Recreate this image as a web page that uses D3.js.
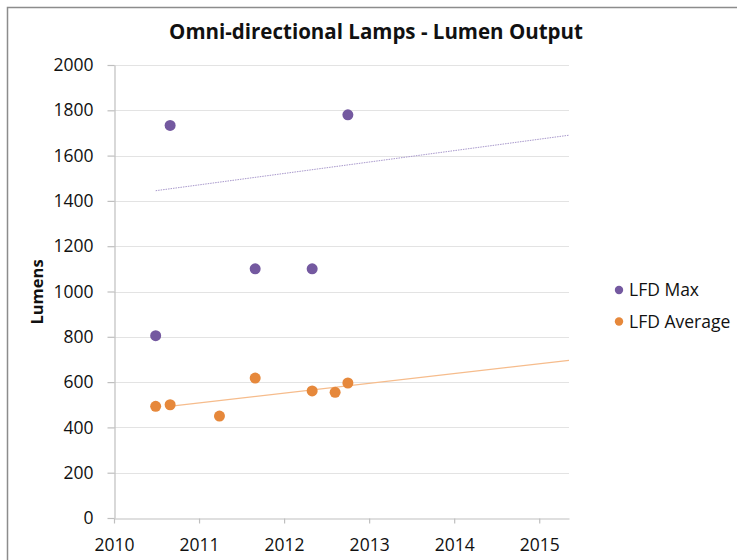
<!DOCTYPE html>
<html>
<head>
<meta charset="utf-8">
<script src="https://cdn.jsdelivr.net/npm/d3@7"></script>
<style>
  body { margin: 0; background: #fff; }
  svg { display: block; font-family: "Open Sans", "Noto Sans", sans-serif; }
</style>
</head>
<body>
<div id="chart"></div>
<script>
// data
const maxYears = [2010.49, 2010.66, 2011.66, 2012.33, 2012.75];
const maxValues = [805, 1733, 1100, 1100, 1780];
const avgYears = [2010.49, 2010.66, 2011.24, 2011.66, 2012.33, 2012.6, 2012.75];
const avgValues = [493, 500, 450, 618, 561, 555, 596];
// trendline end points (as drawn)
const maxTrendYears = [2010.49, 2015.35];
const maxTrendValues = [1445, 1690];
const avgTrendYears = [2010.7, 2015.35];
const avgTrendValues = [495, 696];
const xTicks = [2010, 2011, 2012, 2013, 2014, 2015];
const yTicks = [0, 200, 400, 600, 800, 1000, 1200, 1400, 1600, 1800, 2000];
const seriesNames = ['LFD Max', 'LFD Average'];

const purple = '#7459a0';
const orange = '#e6883b';

const width = 737, height = 560;
const margin = { left: 114, right: 168, top: 65, bottom: 42 };

const svg = d3.select('#chart').append('svg')
    .attr('width', width)
    .attr('height', height);

// frame of the chart object
svg.append('path')
    .attr('d', `M7.5,${height + 5}V7.5H${width + 5}`)
    .attr('fill', 'none')
    .attr('stroke', '#8c8c8c')
    .attr('stroke-width', 1.5);

const x = d3.scaleLinear()
    .domain([2010, 2015.35])
    .range([margin.left, width - margin.right]);
const y = d3.scaleLinear()
    .domain([0, 2000])
    .range([height - margin.bottom, margin.top]);

// gridlines
svg.append('g')
    .selectAll('line')
    .data(yTicks.filter(d => d > 0))
    .enter().append('line')
    .attr('x1', x.range()[0])
    .attr('x2', x.range()[1])
    .attr('y1', d => Math.round(y(d)) + 0.5)
    .attr('y2', d => Math.round(y(d)) + 0.5)
    .attr('stroke', '#e3e3e3')
    .attr('stroke-width', 1);

// axes
const xAxis = svg.append('g')
    .attr('transform', `translate(0,${Math.round(y(0)) + 0.5})`)
    .call(d3.axisBottom(x).tickValues(xTicks).tickFormat(d3.format('d')).tickSize(5).tickSizeOuter(0).tickPadding(15));
const yAxis = svg.append('g')
    .attr('transform', `translate(${Math.round(x(2010)) + 0.5},0)`)
    .call(d3.axisLeft(y).tickValues(yTicks).tickFormat(d3.format('d')).tickSize(7).tickSizeOuter(0).tickPadding(14));

[xAxis, yAxis].forEach(g => {
    g.select('.domain').attr('stroke', '#bfbfbf').attr('stroke-width', 1.2);
    g.selectAll('.tick line').attr('stroke', '#bfbfbf').attr('stroke-width', 1.2);
    g.selectAll('.tick text')
        .attr('fill', '#111')
        .style('font-size', '17.5px')
        .style('font-family', '"Open Sans", sans-serif');
});

// trendlines
const line = d3.line().x(d => x(d[0])).y(d => y(d[1]));
svg.append('path')
    .datum(d3.zip(maxTrendYears, maxTrendValues))
    .attr('d', line)
    .attr('fill', 'none')
    .attr('stroke', '#a898cc')
    .attr('stroke-width', 1)
    .attr('stroke-dasharray', '1.5,1');
svg.append('path')
    .datum(d3.zip(avgTrendYears, avgTrendValues))
    .attr('d', line)
    .attr('fill', 'none')
    .attr('stroke', '#f6bc8c')
    .attr('stroke-width', 1.1);

// points
svg.append('g')
    .selectAll('circle')
    .data(d3.zip(maxYears, maxValues))
    .enter().append('circle')
    .attr('cx', d => x(d[0]))
    .attr('cy', d => y(d[1]))
    .attr('r', 5.5)
    .attr('fill', purple);
svg.append('g')
    .selectAll('circle')
    .data(d3.zip(avgYears, avgValues))
    .enter().append('circle')
    .attr('cx', d => x(d[0]))
    .attr('cy', d => y(d[1]))
    .attr('r', 5.5)
    .attr('fill', orange);

// title
svg.append('text')
    .attr('x', 376)
    .attr('y', 39)
    .attr('text-anchor', 'middle')
    .attr('font-weight', 'bold')
    .attr('font-size', 20.5)
    .attr('fill', '#111')
    .text('Omni-directional Lamps - Lumen Output');

// y axis title
svg.append('text')
    .attr('transform', 'translate(43,292) rotate(-90)')
    .attr('text-anchor', 'middle')
    .attr('font-weight', 'bold')
    .attr('font-size', 16.5)
    .attr('fill', '#111')
    .text('Lumens');

// legend
const legend = svg.append('g');
[purple, orange].forEach((c, i) => {
    const ly = 290 + i * 31.5;
    legend.append('circle')
        .attr('cx', 619)
        .attr('cy', ly)
        .attr('r', 4.2)
        .attr('fill', c);
    legend.append('text')
        .attr('x', 629)
        .attr('y', ly + 6)
        .attr('font-size', 17.5)
        .attr('fill', '#111')
        .text(seriesNames[i]);
});
</script>
</body>
</html>
